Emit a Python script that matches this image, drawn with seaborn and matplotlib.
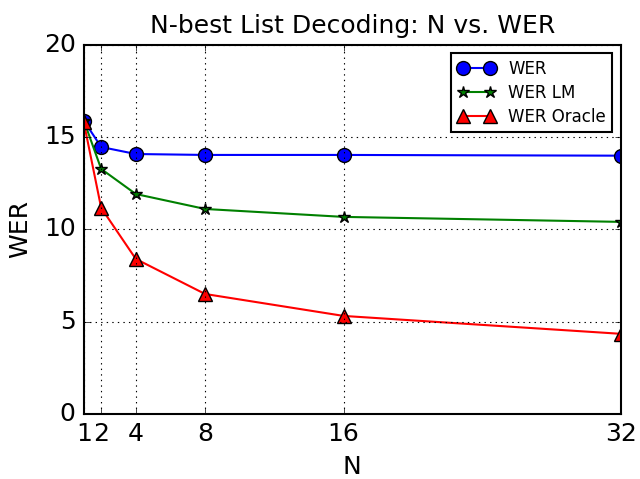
import pandas as pd
import seaborn as sns
import matplotlib
matplotlib.use("Agg")
import matplotlib.pyplot as plt

nValues = [1, 2, 4, 8, 16, 32]
wer = [15.9, 14.47, 14.09, 14.04, 14.04, 14.0]
werLM = [15.9, 13.28, 11.92, 11.11, 10.68, 10.41]
werOracle = [15.8, 11.17, 8.4, 6.5, 5.31, 4.34]

seriesNames = ["WER", "WER LM", "WER Oracle"]

rows = []
for name, vals in zip(seriesNames, [wer, werLM, werOracle]):
    for n, v in zip(nValues, vals):
        rows.append([n, v, name])
df = pd.DataFrame(rows, columns=["N", "WER", "series"])

plt.style.use("classic")
plt.rcParams["font.family"] = ["DejaVu Sans"]
plt.rcParams["axes.linewidth"] = 1.5

fig = plt.figure(figsize=(6.4, 4.79), dpi=100, facecolor="white")
ax = fig.add_axes([0.131, 0.136, 0.839, 0.770])

ax = sns.lineplot(
    data=df,
    x="N",
    y="WER",
    hue="series",
    style="series",
    hue_order=seriesNames,
    style_order=seriesNames,
    markers={"WER": "o", "WER LM": "*", "WER Oracle": "^"},
    dashes=False,
    palette={"WER": "b", "WER LM": "g", "WER Oracle": "r"},
    markersize=10,
    markeredgecolor="k",
    markeredgewidth=1,
    linewidth=1.5,
    legend=False,
    ax=ax,
)
ax.lines[1].set_markersize(9)

ax.set_xlim(1, 32)
ax.set_ylim(0, 20)
ax.set_xticks(nValues)
ax.set_yticks([0, 5, 10, 15, 20])
ax.tick_params(labelsize=18, pad=6)
ax.grid(True, linestyle=":", color="k", linewidth=0.8)
ax.set_xlabel("N", fontsize=18, labelpad=6)
ax.set_ylabel("WER", fontsize=18, labelpad=8)
ax.set_title("N-best List Decoding: N vs. WER", fontsize=18, y=1.015)
leg = ax.legend(ax.lines[:3], seriesNames, loc="upper right", numpoints=2,
                fontsize=12, handlelength=2.2, labelspacing=0.35)
leg.get_frame().set_linewidth(1.5)

plt.savefig("out.png", dpi=100, facecolor="white")
plt.close()
